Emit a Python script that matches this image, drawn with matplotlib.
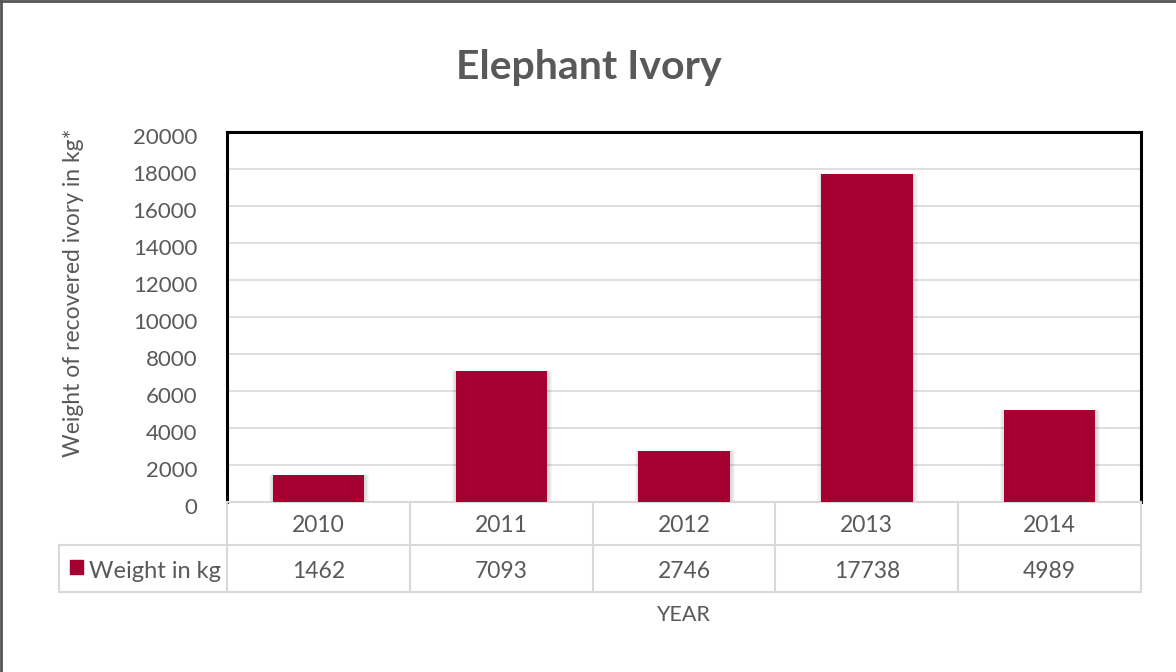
import matplotlib.pyplot as plt
from matplotlib.lines import Line2D
from matplotlib.patches import Rectangle
from matplotlib.transforms import ScaledTranslation

years = ['2010', '2011', '2012', '2013', '2014']
weights = [1462, 7093, 2746, 17738, 4989]
series_name = 'Weight in kg'

bar_color = '#A60032'
text_color = '#595959'
grid_color = '#D9D9D9'
plt.rcParams['font.family'] = ['Lato', 'DejaVu Sans']

W, H = 1176, 672
fig = plt.figure(figsize=(W / 100, H / 100), dpi=100)
ax = fig.add_axes([227 / W, 1 - 502 / H, (1141 - 227) / W, (502 - 132) / H])

x = list(range(len(years)))

# soft shadow behind each bar
for k in range(4):
    pad = 0.006 * (k + 1)
    ax.bar([i + 0.004 for i in x], [w + 60 * (k + 1) for w in weights],
           width=0.5 + 2 * pad, bottom=-60 * (k + 1), color='#000000',
           alpha=0.035, zorder=2, linewidth=0)
ax.bar(x, weights, width=0.5, color=bar_color, zorder=3, linewidth=0)

ax.set_xlim(-0.5, len(years) - 0.5)
ax.set_ylim(0, 20000)
ax.set_yticks(range(0, 20001, 2000))
ax.yaxis.grid(True, color=grid_color, linewidth=1.2, zorder=0)
ax.set_axisbelow(True)
ax.tick_params(axis='y', length=0, pad=21.5, labelsize=16, labelcolor=text_color)
ax.tick_params(axis='x', length=0, labelbottom=False)
# nudge tick labels a little downward
for lbl in ax.get_yticklabels():
    lbl.set_transform(lbl.get_transform() +
                      ScaledTranslation(0, -4 / 100, fig.dpi_scale_trans))
for s in ['top', 'left', 'right']:
    ax.spines[s].set_color('black')
    ax.spines[s].set_linewidth(2.2)
ax.spines['bottom'].set_color(grid_color)
ax.spines['bottom'].set_linewidth(1.5)

ax.set_ylabel('Weight of recovered ivory in kg*', fontsize=16.5,
              color=text_color)
ax.yaxis.set_label_coords((84 - 227) / (1141 - 227), 0.565)
fig.text(589 / W, 1 - 68 / H, 'Elephant Ivory', ha='center', va='center',
         fontsize=29.5, fontweight='bold', color=text_color)

# data table under the plot area
def fy(py):
    return 1 - py / H

row_top, row_mid, row_bot = 502, 545, 592
legend_left = 59
line_kw = dict(color=grid_color, linewidth=1.5)

fig.add_artist(Line2D([legend_left / W, 1141 / W], [fy(row_mid)] * 2, **line_kw))
fig.add_artist(Line2D([legend_left / W, 1141 / W], [fy(row_bot)] * 2, **line_kw))
fig.add_artist(Line2D([legend_left / W] * 2, [fy(row_mid), fy(row_bot)], **line_kw))
for i in range(len(years) + 1):
    xp = 227 + i * (1141 - 227) / len(years)
    fig.add_artist(Line2D([xp / W] * 2, [fy(row_top), fy(row_bot)], **line_kw))

for i, (yr, wt) in enumerate(zip(years, weights)):
    xc = (227 + (i + 0.5) * (1141 - 227) / len(years)) / W
    fig.text(xc, fy(526), yr, ha='center', va='center', fontsize=16.5,
             color=text_color)
    fig.text(xc, fy(571), str(wt), ha='center', va='center', fontsize=16.5,
             color=text_color)

fig.add_artist(Rectangle((70 / W, fy(574)), 13 / W, 14 / H,
                         color=bar_color, transform=fig.transFigure))
fig.text(89 / W, fy(571), series_name, ha='left', va='center', fontsize=17,
         color=text_color)

fig.text(683 / W, fy(615), 'YEAR', ha='center', va='center', fontsize=15.5,
         color=text_color)

# outer frame, top and left edges
fig.add_artist(Line2D([0, 1], [1 - 1 / H] * 2, color='#555555', linewidth=2))
fig.add_artist(Line2D([1 / W] * 2, [0, 1], color='#555555', linewidth=2))

fig.savefig('out.png', dpi=100, facecolor='white')
